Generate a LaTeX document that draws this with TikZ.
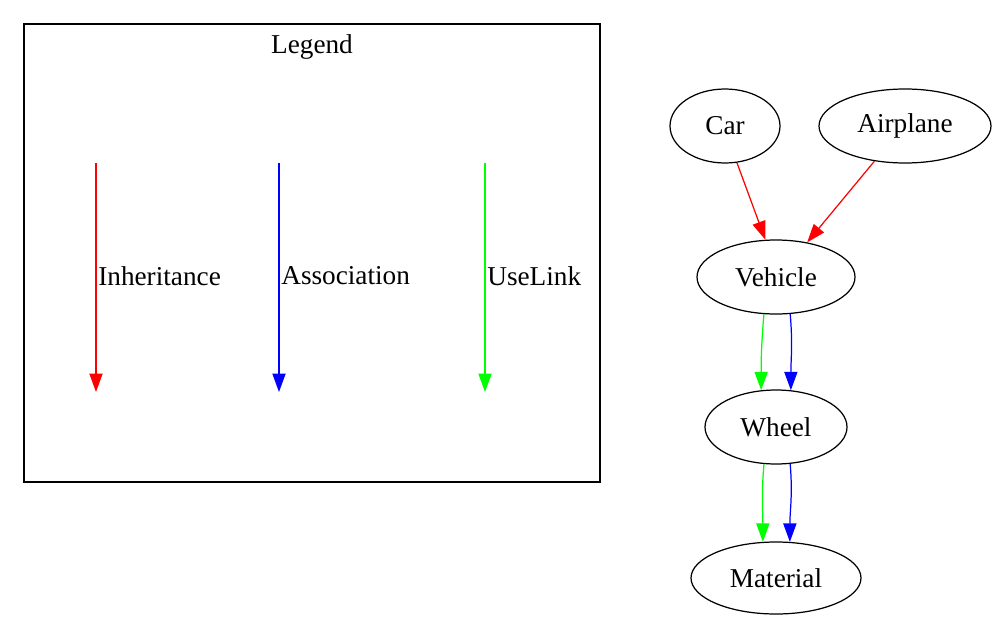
\documentclass[tikz,border=0pt]{standalone}
\usepackage{fontspec}
\setmainfont{Liberation Serif}
\usetikzlibrary{shapes.geometric,arrows.meta}
\definecolor{gvred}{RGB}{255,0,0}
\definecolor{gvblue}{RGB}{0,0,255}
\definecolor{gvgreen}{RGB}{0,255,0}
\tikzset{
  gnode/.style={draw, ellipse, inner sep=0pt, line width=0.7pt, font=\fontsize{15.5}{17}\selectfont},
  gedge/.style={line width=0.7pt, -{Triangle[length=10.5pt,width=7.5pt]}},
  lbl/.style={anchor=west, inner sep=0pt, font=\fontsize{15.5}{17}\selectfont},
}
\begin{document}
\begin{tikzpicture}[x=0.02cm,y=-0.02cm]
\useasboundingbox (0,0) rectangle (1000,625);
% legend
\node[draw, line width=0.7pt, minimum width=576*0.02cm, minimum height=458*0.02cm, inner sep=0pt] (legend) at (312,253) {};
\node[inner sep=0pt, font=\fontsize{15.5}{17}\selectfont] (legendt) at (312,47) {Legend};
\coordinate (ls1) at (96,163); \coordinate (le1) at (96,392);
\coordinate (ls2) at (279,163); \coordinate (le2) at (279,392);
\coordinate (ls3) at (485,163); \coordinate (le3) at (485,392);
\draw[gedge, gvred] (ls1) -- (le1);
\draw[gedge, gvblue] (ls2) -- (le2);
\draw[gedge, gvgreen] (ls3) -- (le3);
\node[lbl] (l1) at (98,276) {Inheritance};
\node[lbl] (l2) at (281,276) {Association};
\node[lbl] (l3) at (487,276) {UseLink};
% graph
\node[gnode, minimum width=110*0.02cm, minimum height=74*0.02cm] (car) at (725,126) {Car};
\node[gnode, minimum width=172*0.02cm, minimum height=74*0.02cm] (airplane) at (905,126) {Airplane};
\node[gnode, minimum width=158*0.02cm, minimum height=74*0.02cm] (vehicle) at (776,277) {Vehicle};
\node[gnode, minimum width=142*0.02cm, minimum height=74*0.02cm] (wheel) at (776,427) {Wheel};
\node[gnode, minimum width=170*0.02cm, minimum height=72*0.02cm] (material) at (776,578) {Material};
\draw[gedge, gvred] (car.-72) -- (vehicle.106);
\draw[gedge, gvred] (airplane.-131) -- (vehicle.48);
\draw[gedge, gvgreen] (vehicle.-108) to[out=-95,in=90] (wheel.112);
\draw[gedge, gvblue] (vehicle.-69) to[out=-85,in=90] (wheel.68);
\draw[gedge, gvgreen] (wheel.-108) to[out=-95,in=90] (material.110);
\draw[gedge, gvblue] (wheel.-69) to[out=-85,in=90] (material.69);
\end{tikzpicture}
\end{document}
